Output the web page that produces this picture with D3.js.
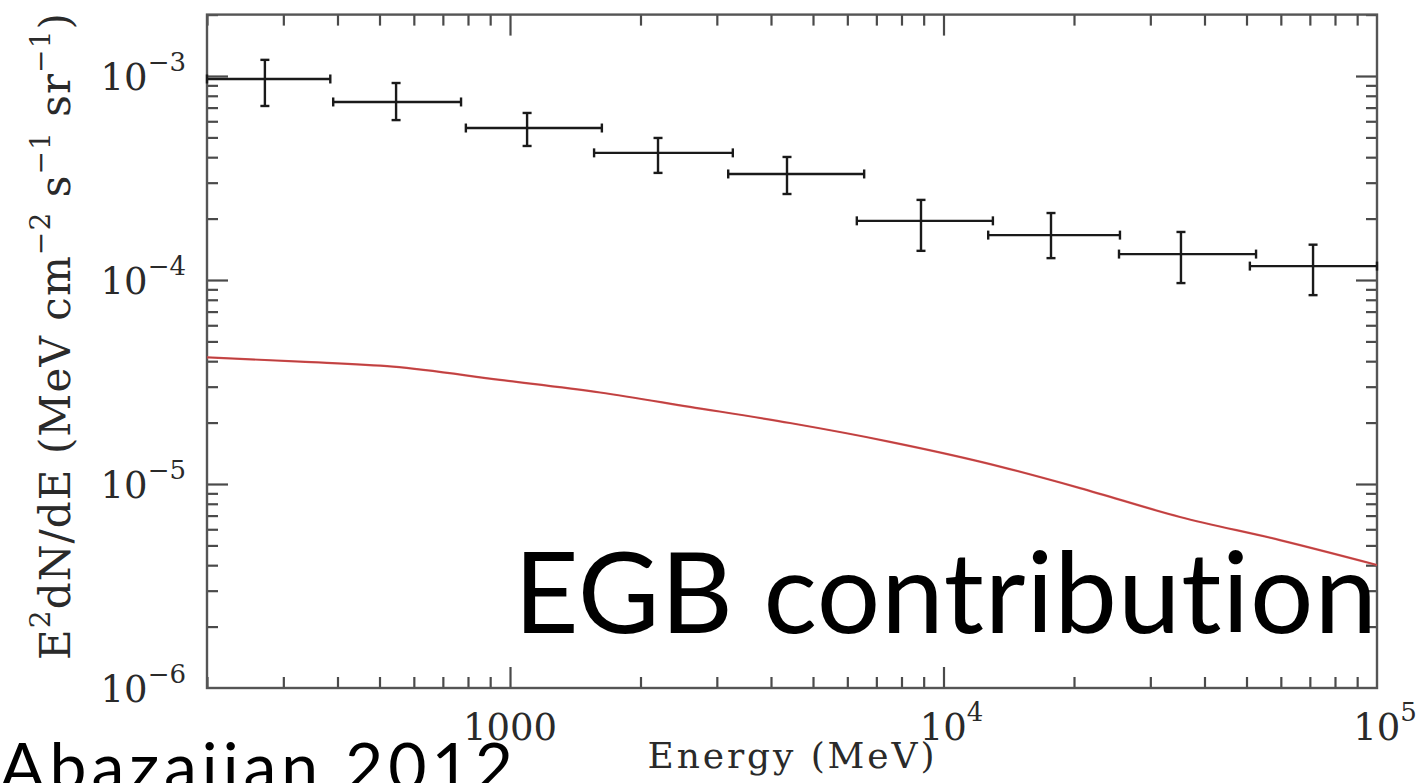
<!DOCTYPE html>
<html>
<head>
<meta charset="utf-8">
<script src="https://cdn.jsdelivr.net/npm/d3@7"></script>
<style>
  html, body { margin: 0; padding: 0; background: #fff; }
  svg { display: block; }
  .note { font-variant-ligatures: none; font-feature-settings: "liga" 0, "clig" 0; }
</style>
</head>
<body>
<svg id="chart" width="1419" height="783"></svg>
<script>
// Measured extragalactic gamma-ray background, one entry per energy band
const bandCenter = [272, 546, 1095, 2195, 4355, 8873, 17700, 35300, 71200];      // MeV
const bandLow    = [200, 391, 791, 1563, 3187, 6310, 12680, 25400, 50900];       // MeV
const bandHigh   = [385, 771, 1629, 3266, 6561, 13000, 25530, 52600, 100000];    // MeV
const egbFlux    = [9.67e-4, 7.46e-4, 5.56e-4, 4.20e-4, 3.31e-4, 1.95e-4, 1.66e-4, 1.34e-4, 1.17e-4];
const egbUpper   = [1.20e-3, 9.24e-4, 6.59e-4, 4.97e-4, 4.01e-4, 2.47e-4, 2.13e-4, 1.72e-4, 1.49e-4];
const egbLower   = [7.13e-4, 6.08e-4, 4.54e-4, 3.35e-4, 2.64e-4, 1.39e-4, 1.28e-4, 9.66e-5, 8.43e-5];

// Model contribution curve
const modelEnergy = [200, 328, 537, 948, 1613, 2600, 4425, 7523, 12470, 20650, 35120, 59700, 100000];
const modelFlux   = [4.18e-5, 3.98e-5, 3.76e-5, 3.24e-5, 2.81e-5, 2.39e-5, 1.99e-5, 1.61e-5,
                     1.27e-5, 9.55e-6, 6.89e-6, 5.31e-6, 4.01e-6];

// Axes
const xDomain = [200, 1e5];
const yDomain = [1e-6, 2e-3];
const xMajorTicks = [1000, 1e4, 1e5];
const xTickBase   = ["1000", "10", "10"];
const xTickExp    = ["", "4", "5"];
const yMajorTicks = [1e-3, 1e-4, 1e-5, 1e-6];
const yTickExp    = ["\u22123", "\u22124", "\u22125", "\u22126"];

const svg = d3.select("#chart");
const frame = { left: 207, right: 1377, top: 14.6, bottom: 688 };

const x = d3.scaleLog().domain(xDomain).range([frame.left, frame.right]);
const y = d3.scaleLog().domain(yDomain).range([frame.bottom, frame.top]);

const isMajor = v => Math.abs(Math.log10(v) - Math.round(Math.log10(v))) < 1e-9;
const xMinor = x.ticks().filter(v => !isMajor(v));
const yMinor = y.ticks().filter(v => !isMajor(v));
const xMajorIn = xMajorTicks.filter(v => v < xDomain[1]);
const yMajorIn = yMajorTicks.filter(v => v > yDomain[0]);

const tickColor = "#4a4a4a";
const minorLen = 11, majorLen = 21;

function drawAxis(axis, tx, ty) {
  const g = svg.append("g").attr("transform", `translate(${tx},${ty})`).call(axis);
  g.select(".domain").remove();
  g.selectAll(".tick line").attr("stroke", tickColor).attr("stroke-width", 2.2);
  g.selectAll(".tick text").remove();
}

[[xMinor, minorLen], [xMajorIn, majorLen]].forEach(([vals, len]) => {
  drawAxis(d3.axisBottom(x).tickValues(vals).tickSize(-len).tickFormat(""), 0, frame.bottom);
  drawAxis(d3.axisTop(x).tickValues(vals).tickSize(-len).tickFormat(""), 0, frame.top);
});
[[yMinor, minorLen], [yMajorIn, majorLen]].forEach(([vals, len]) => {
  drawAxis(d3.axisLeft(y).tickValues(vals).tickSize(-len).tickFormat(""), frame.left, 0);
  drawAxis(d3.axisRight(y).tickValues(vals).tickSize(-len).tickFormat(""), frame.right, 0);
});

// plot frame
svg.append("rect")
  .attr("x", frame.left).attr("y", frame.top)
  .attr("width", frame.right - frame.left).attr("height", frame.bottom - frame.top)
  .attr("fill", "none").attr("stroke", "#555").attr("stroke-width", 2.4);

// model curve
const line = d3.line()
  .x((d, i) => x(modelEnergy[i]))
  .y(d => y(d))
  .curve(d3.curveMonotoneX);
svg.append("path")
  .datum(modelFlux)
  .attr("d", line)
  .attr("fill", "none")
  .attr("stroke", "#d65050")
  .attr("stroke-width", 2.2);
svg.append("path")
  .datum(modelFlux)
  .attr("d", line)
  .attr("fill", "none")
  .attr("stroke", "#8a2a2a")
  .attr("stroke-width", 0.8)
  .attr("stroke-opacity", 0.55);

// data points with error bars
const ink = "#1a1a1a";
const capHalf = 4.5;
const pts = svg.append("g").attr("stroke", ink).attr("stroke-width", 2.4).attr("fill", "none");
bandCenter.forEach((c, i) => {
  const g = pts.append("g");
  const yc = y(egbFlux[i]);
  const x0 = x(bandLow[i]), x1 = x(bandHigh[i]), xc = x(c);
  const yt = y(egbUpper[i]), yb = y(egbLower[i]);
  g.append("line").attr("x1", x0).attr("x2", x1).attr("y1", yc).attr("y2", yc);
  g.append("line").attr("x1", x0).attr("x2", x0).attr("y1", yc - capHalf).attr("y2", yc + capHalf);
  g.append("line").attr("x1", x1).attr("x2", x1).attr("y1", yc - capHalf).attr("y2", yc + capHalf);
  g.append("line").attr("x1", xc).attr("x2", xc).attr("y1", yt).attr("y2", yb);
  g.append("line").attr("x1", xc - capHalf).attr("x2", xc + capHalf).attr("y1", yt).attr("y2", yt);
  g.append("line").attr("x1", xc - capHalf).attr("x2", xc + capHalf).attr("y1", yb).attr("y2", yb);
});

// tick labels
const serif = "'DejaVu Serif', serif";
const labelColor = "#2a2a2a";
yMajorTicks.forEach((v, i) => {
  const t = svg.append("text")
    .attr("x", 186).attr("y", y(v) + 14)
    .attr("text-anchor", "end")
    .attr("font-family", serif).attr("font-size", 37).attr("fill", labelColor);
  t.append("tspan").text("10");
  t.append("tspan").attr("dy", -19).attr("font-size", 26).text(yTickExp[i]);
});
xMajorTicks.forEach((v, i) => {
  const t = svg.append("text")
    .attr("x", x(v) + (xTickExp[i] ? 8 : 0)).attr("y", 740)
    .attr("text-anchor", "middle")
    .attr("font-family", serif).attr("font-size", 37).attr("fill", labelColor);
  t.append("tspan").text(xTickBase[i]);
  if (xTickExp[i]) t.append("tspan").attr("dy", -19).attr("font-size", 26).text(xTickExp[i]);
});

// axis titles
svg.append("text")
  .attr("x", 791).attr("y", 768)
  .attr("text-anchor", "middle")
  .attr("font-family", serif).attr("font-size", 36).attr("fill", labelColor)
  .attr("textLength", 287).attr("lengthAdjust", "spacing")
  .text("Energy (MeV)");

const yt = svg.append("text")
  .attr("transform", "translate(70,660) rotate(-90)")
  .attr("x", 0).attr("y", 0)
  .attr("text-anchor", "start")
  .attr("font-family", serif).attr("font-size", 42).attr("fill", labelColor)
  .attr("textLength", 647).attr("lengthAdjust", "spacing");
const yParts = [["E", 0], ["2", 1], ["dN/dE (MeV cm", 0], ["\u22122", 1], [" s", 0], ["\u22121", 1], [" sr", 0], ["\u22121", 1], [")", 0]];
let lifted = false;
yParts.forEach(([s, sup]) => {
  const ts = yt.append("tspan").text(s);
  if (sup && !lifted) { ts.attr("dy", -20).attr("font-size", 28); lifted = true; }
  else if (sup) { ts.attr("font-size", 28); }
  else if (!sup && lifted) { ts.attr("dy", 20); lifted = false; }
});

// annotations
const sans = "Lato, 'Open Sans', sans-serif";
svg.append("text")
  .attr("class", "note")
  .attr("x", 514).attr("y", 633)
  .attr("font-family", sans).attr("font-size", 112).attr("font-weight", 400).attr("fill", "#000")
  .attr("textLength", 863).attr("lengthAdjust", "spacing")
  .text("EGB contribution");
svg.append("text")
  .attr("class", "note")
  .attr("x", 0).attr("y", 790)
  .attr("font-family", sans).attr("font-size", 66).attr("font-weight", 400).attr("fill", "#000")
  .attr("textLength", 513).attr("lengthAdjust", "spacing")
  .text("Abazajian 2012");
</script>
</body>
</html>
